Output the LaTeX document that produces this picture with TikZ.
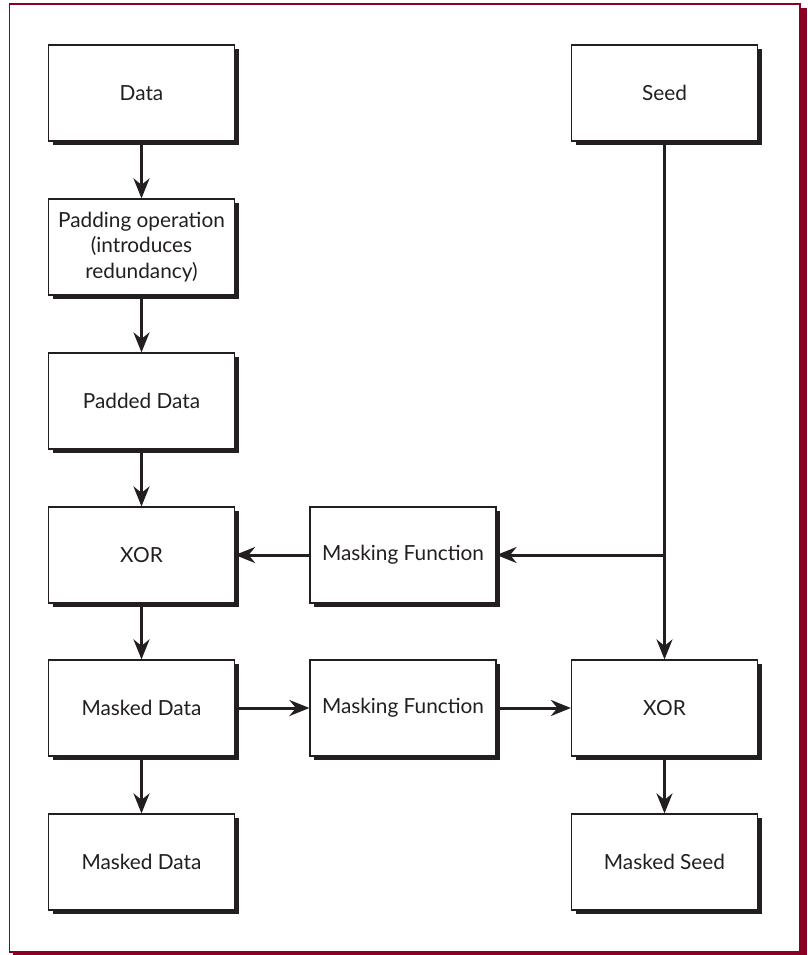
\documentclass[tikz,border=0pt]{standalone}
\usepackage{fontspec}
\setmainfont{Lato}
\usetikzlibrary{shadows,arrows.meta}
\definecolor{ink}{HTML}{231F20}
\definecolor{frame}{HTML}{8A0022}
\tikzset{
  box/.style={draw=ink, line width=1.2pt, fill=white, minimum width=186pt, minimum height=96pt,
    inner sep=2pt, align=center, font=\fontsize{20.8}{25.5}\selectfont, text=ink,
    general shadow={fill=ink, shadow xshift=4pt, shadow yshift=-4pt}},
  conn/.style={draw=ink, line width=3pt, -{Stealth[length=20pt,width=16pt,inset=6.5pt]}},
  plain/.style={draw=ink, line width=3pt}
}
\begin{document}
\begin{tikzpicture}[x=1pt,y=-1pt]
\useasboundingbox (0,0) rectangle (807,955);
% frame
\fill[frame] (13,8) rectangle (807,955);
\draw[frame, line width=1.2pt, fill=white] (9.5,4) rectangle (800,952);
% nodes
\node[box] (data) at (141.5,93) {Data};
\node[box] (pad) at (141.5,247) {Padding operation\\(introduces\\redundancy)};
\node[box] (padded) at (141.5,401) {Padded Data};
\node[box] (xor1) at (141.5,555) {XOR};
\node[box] (md1) at (141.5,708) {Masked Data};
\node[box] (md2) at (141.5,862) {Masked Data};
\node[box] (mf1) at (403,555) {Masking Function};
\node[box] (mf2) at (403,708) {Masking Function};
\node[box] (seed) at (664.5,93) {Seed};
\node[box] (xor2) at (664.5,708) {XOR};
\node[box] (ms) at (664.5,862) {Masked Seed};
\coordinate (j) at (664.5,555);
% connectors
\draw[conn] (data) -- (pad);
\draw[conn] (pad) -- (padded);
\draw[conn] (padded) -- (xor1);
\draw[conn] (xor1) -- (md1);
\draw[conn] (md1) -- (md2);
\draw[conn] (md1) -- (mf2);
\draw[conn] (mf2) -- (xor2);
\draw[conn] (seed) -- (xor2);
\draw[conn] (j) -- (mf1);
\draw[conn] (mf1) -- (xor1);
\draw[conn] (xor2) -- (ms);
\end{tikzpicture}
\end{document}
